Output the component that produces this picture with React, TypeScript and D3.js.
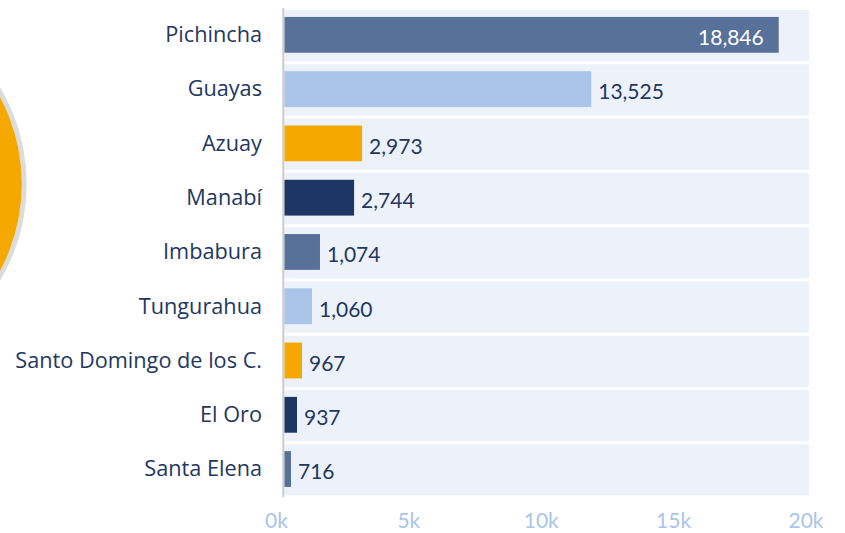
import React from "react";
import * as d3 from "d3";

const categories = [
  "Pichincha",
  "Guayas",
  "Azuay",
  "Manabí",
  "Imbabura",
  "Tungurahua",
  "Santo Domingo de los C.",
  "El Oro",
  "Santa Elena",
];
// values printed on the labels
const labelValues = [18846, 13525, 2973, 2744, 1074, 1060, 967, 937, 716];
// bar lengths as drawn in the picture
const barValues = [18846, 11700, 2965, 2660, 1360, 1056, 675, 484, 255];
const xTicks = [0, 5000, 10000, 15000, 20000];
const palette = ["#57719a", "#a9c5ea", "#f5a800", "#1e3663"];

const W = 845;
const H = 533;
const FONT = "Lato, 'Open Sans', sans-serif";
const CAT_FONT = "'Open Sans', Lato, sans-serif";
const TEXT = "#23375f";

export default function App() {
  const x = d3.scaleLinear().domain([0, 20000]).range([284.3, 809]);
  const xLabel = d3.scaleLinear().domain([0, 20000]).range([276.5, 806]);
  const yBand = d3.scaleBand<string>().domain(categories).range([8.5, 497]).paddingInner(0);
  const yBar = d3.scaleBand<string>().domain(categories).range([8.5, 497]).paddingInner(0.34).paddingOuter(0.17);
  const fmt = d3.format(",");
  const [x0] = x.range();
  const [, x1] = x.range();

  return (
    <svg
      width={W}
      height={H}
      viewBox={`0 0 ${W} ${H}`}
      style={{ position: "absolute", left: 0, top: 0, display: "block" }}
      fontFamily={FONT}
    >
      <rect x={0} y={0} width={W} height={H} fill="#ffffff" />
      {/* partially visible circle on the left */}
      <circle cx={-162.8} cy={184} r={187} fill="#f5a800" stroke="#dcdcdc" strokeWidth={5} />

      {/* plot bands */}
      {categories.map((c) => (
        <rect
          key={"band" + c}
          x={x0}
          y={(yBand(c) as number) + 1.5}
          width={x1 - x0}
          height={yBand.bandwidth() - 3}
          fill="#edf2fa"
        />
      ))}

      {/* bars */}
      {categories.map((c, i) => (
        <rect
          key={"bar" + c}
          x={x0}
          y={(yBar(c) as number) - 0.8}
          width={x(barValues[i]) - x0}
          height={yBar.bandwidth()}
          fill={palette[i % palette.length]}
        />
      ))}

      {/* axis line */}
      <line x1={283.3} x2={283.3} y1={8} y2={497} stroke="#cccccc" strokeWidth={2} />

      {/* category labels */}
      {categories.map((c) => (
        <text
          key={"cat" + c}
          x={262}
          y={(yBand(c) as number) + yBand.bandwidth() / 2 + 6.5}
          textAnchor="end"
          fontSize={21.7}
          fontFamily={CAT_FONT}
          fill={TEXT}
        >
          {c}
        </text>
      ))}

      {/* data labels */}
      {categories.map((c, i) => {
        const inside = labelValues[i] > 15000;
        const bx = x(barValues[i]);
        return (
          <text
            key={"lab" + c}
            x={inside ? bx - 15 : bx + 7}
            y={(yBand(c) as number) + yBand.bandwidth() / 2 + 9.5}
            textAnchor={inside ? "end" : "start"}
            fontSize={21}
            fill={inside ? "#ffffff" : TEXT}
          >
            {fmt(labelValues[i])}
          </text>
        );
      })}

      {/* x axis tick labels */}
      {xTicks.map((t) => (
        <text
          key={"tick" + t}
          x={xLabel(t)}
          y={528.3}
          textAnchor="middle"
          fontSize={21}
          fill="#a9c5ea"
        >
          {t / 1000 + "k"}
        </text>
      ))}
    </svg>
  );
}
